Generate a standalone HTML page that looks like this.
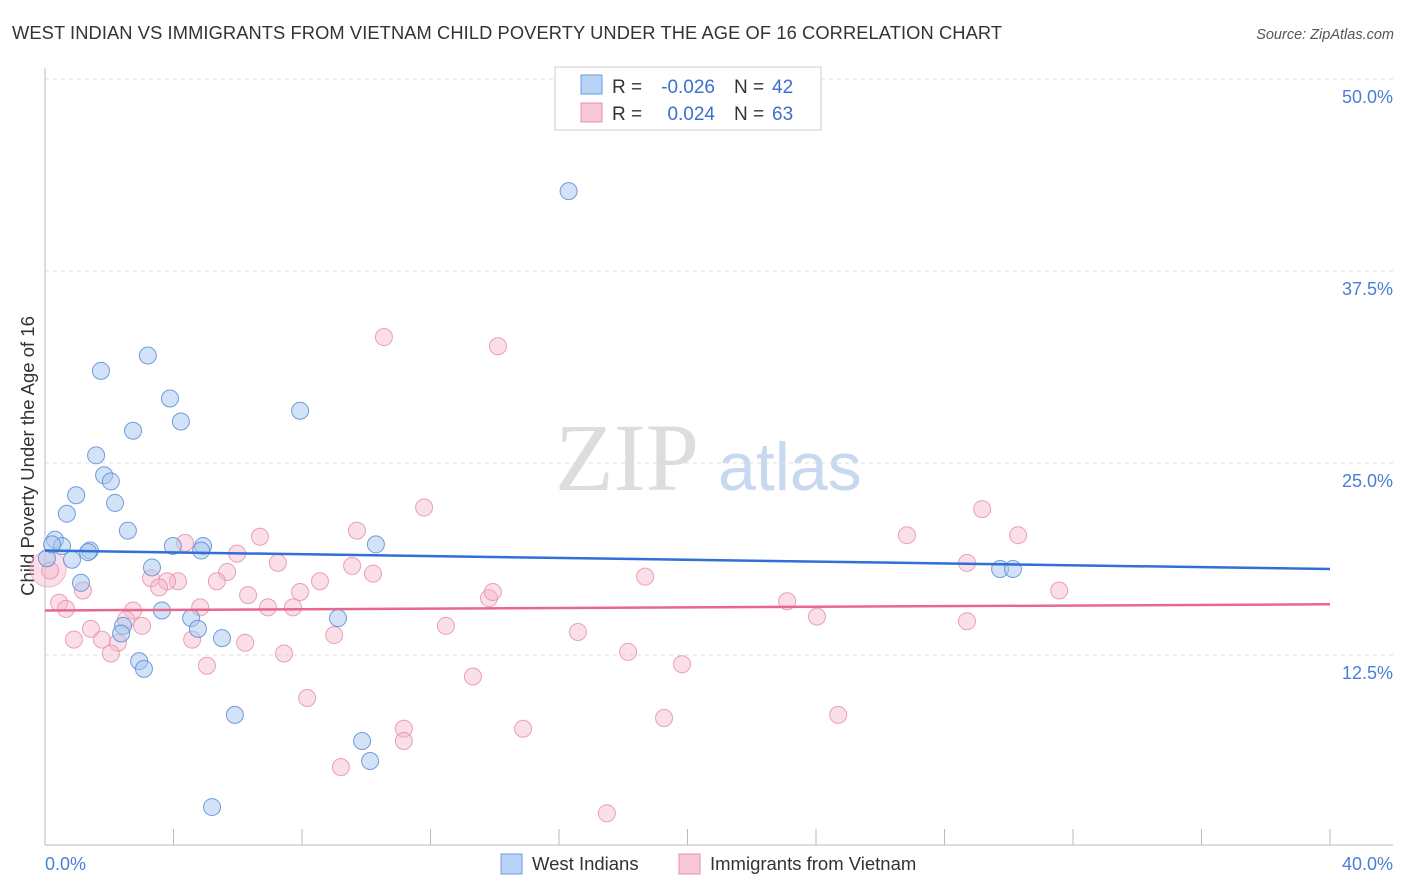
<!DOCTYPE html>
<html><head><meta charset="utf-8"><style>
body{margin:0;background:#fff;font-family:"Liberation Sans",sans-serif}
svg{display:block}
</style></head><body>
<svg id="c" width="1406" height="892">
<text x="12" y="39" font-size="18.3" fill="#333" textLength="990">WEST INDIAN VS IMMIGRANTS FROM VIETNAM CHILD POVERTY UNDER THE AGE OF 16 CORRELATION CHART</text>
<text x="1394" y="39" font-size="14.5" fill="#555" font-style="italic" text-anchor="end">Source: ZipAtlas.com</text>
<text x="34" y="456" font-size="18.5" fill="#333" text-anchor="middle" transform="rotate(-90 34 456)">Child Poverty Under the Age of 16</text>
<text x="555" y="490" font-size="96" fill="#ddd" font-family="Liberation Serif,serif">ZIP</text>
<text x="718" y="490" font-size="68" fill="#c8d9ef">atlas</text>
<g id="grid"></g><g id="pts"></g><g id="lines"></g>
<g>
<rect x="555" y="67" width="266" height="63" fill="#fff" stroke="#ccc"/>
<rect x="581" y="75" width="21" height="19" fill="#b8d3f5" stroke="#6a9ee0"/>
<rect x="581" y="103" width="21" height="19" fill="#f9c8d8" stroke="#e890ab"/>
<text x="612" y="93" font-size="19" fill="#333">R =</text>
<text x="715" y="93" font-size="19" fill="#3b6fd0" text-anchor="end">-0.026</text>
<text x="734" y="93" font-size="19" fill="#333">N =</text>
<text x="772" y="93" font-size="19" fill="#3b6fd0">42</text>
<text x="612" y="120" font-size="19" fill="#333">R =</text>
<text x="715" y="120" font-size="19" fill="#3b6fd0" text-anchor="end">0.024</text>
<text x="734" y="120" font-size="19" fill="#333">N =</text>
<text x="772" y="120" font-size="19" fill="#3b6fd0">63</text>
</g>
<g>
<rect x="501" y="854" width="21" height="20" fill="#b8d3f5" stroke="#6a9ee0"/>
<text x="532" y="870" font-size="18.5" fill="#333">West Indians</text>
<rect x="679" y="854" width="21" height="20" fill="#f9c8d8" stroke="#e890ab"/>
<text x="710" y="870" font-size="18.5" fill="#333">Immigrants from Vietnam</text>
</g>
<text x="45" y="870" font-size="18" fill="#4a7fd4">0.0%</text>
<text x="1393" y="870" font-size="18" fill="#4a7fd4" text-anchor="end">40.0%</text>
</svg>
<script>
const yTicks=[50,37.5,25,12.5];
const yTickLabels=["50.0%","37.5%","25.0%","12.5%"];
const blueX=[16.3,3.2,1.74,3.89,4.23,7.94,2.74,1.59,1.84,2.05,0.97,2.18,0.68,2.58,0.31,0.53,1.4,1.34,0.84,3.98,4.92,4.86,10.3,3.33,1.12,3.64,4.55,4.76,9.12,2.43,2.37,5.51,2.93,3.08,5.91,9.87,10.12,5.2,29.73,30.13,0.06,0.22];
const blueY=[42.7,32.0,31.0,29.2,27.7,28.4,27.1,25.5,24.2,23.8,22.9,22.4,21.7,20.6,20.0,19.6,19.3,19.2,18.7,19.6,19.6,19.3,19.7,18.2,17.2,15.4,14.9,14.2,14.9,14.4,13.9,13.6,12.1,11.6,8.6,6.9,5.6,2.6,18.1,18.1,18.8,19.7];
const pinkX=[10.55,14.1,11.8,9.71,4.36,6.69,5.98,7.25,9.56,10.21,5.67,3.3,4.14,3.8,3.55,5.35,8.56,6.32,7.94,4.83,6.94,7.72,2.74,2.52,3.02,1.43,1.77,0.9,2.27,4.58,6.23,9.0,2.05,5.04,7.44,12.48,13.82,13.94,8.16,13.32,11.17,14.88,11.17,9.21,16.59,18.15,18.68,19.83,19.27,17.49,23.1,24.03,24.69,26.83,29.17,30.29,28.7,28.7,31.57,0.44,0.65,0.16,1.18];
const pinkY=[33.2,32.6,22.1,20.6,19.8,20.2,19.1,18.5,18.3,17.8,17.9,17.5,17.3,17.3,16.9,17.3,17.3,16.4,16.6,15.6,15.6,15.6,15.4,14.8,14.4,14.2,13.5,13.5,13.3,13.5,13.3,13.8,12.6,11.8,12.6,14.4,16.2,16.6,9.7,11.1,7.7,7.7,6.9,5.2,14.0,12.7,17.6,11.9,8.4,2.2,16.0,15.0,8.6,20.3,22.0,20.3,18.5,14.7,16.7,15.9,15.5,18.0,16.7];
const blueTrend=[19.3,18.1];
const pinkTrend=[15.4,15.8];
const xs=v=>45+v*32.125, ys=v=>79+(50-v)*15.36;
const NS="http://www.w3.org/2000/svg";
function mk(tag,attrs,parent){const e=document.createElementNS(NS,tag);for(const k in attrs)e.setAttribute(k,attrs[k]);parent.appendChild(e);return e;}
const grid=document.getElementById('grid');
yTicks.forEach((t,i)=>{
 const l=mk('line',{x1:45,x2:1393,y1:ys(t),y2:ys(t),stroke:'#ddd','stroke-dasharray':'4,4'},grid);
 
 
 const tx=mk('text',{x:1393,y:ys(t)+24,'font-size':18,fill:'#4a7fd4','text-anchor':'end'},grid);
 tx.textContent=yTickLabels[i];
 
 
});
const ax=mk('line',{x1:45,x2:1393,y1:845,y2:845,stroke:'#bbb'},grid);


const ay=mk('line',{x1:45,x2:45,y1:68,y2:845,stroke:'#bbb'},grid);


for(let i=0;i<=10;i++){const t=mk('line',{x1:xs(i*4),x2:xs(i*4),y1:829,y2:845,stroke:'#bbb'},grid);
 
 }
const pts=document.getElementById('pts');
const bp=mk('circle',{cx:xs(0.1),cy:ys(18.1),r:18,fill:'rgba(245,184,203,0.45)',stroke:'rgba(232,144,171,0.6)'},pts);


pinkX.forEach((x,i)=>{const c=mk('circle',{cx:xs(x),cy:ys(pinkY[i]),r:8.5,fill:'rgba(245,184,203,0.45)',stroke:'rgba(232,144,171,0.85)'},pts);
 
 });
blueX.forEach((x,i)=>{const c=mk('circle',{cx:xs(x),cy:ys(blueY[i]),r:8.5,fill:'rgba(168,200,240,0.5)',stroke:'rgba(90,140,215,0.85)'},pts);
 
 });
const lg=document.getElementById('lines');
const l1=mk('line',{x1:xs(0),x2:xs(40),y1:ys(blueTrend[0]),y2:ys(blueTrend[1]),stroke:'#2f6fd6','stroke-width':2.5},lg);


const l2=mk('line',{x1:xs(0),x2:xs(40),y1:ys(pinkTrend[0]),y2:ys(pinkTrend[1]),stroke:'#e8678f','stroke-width':2.5},lg);


</script>
</body></html>
